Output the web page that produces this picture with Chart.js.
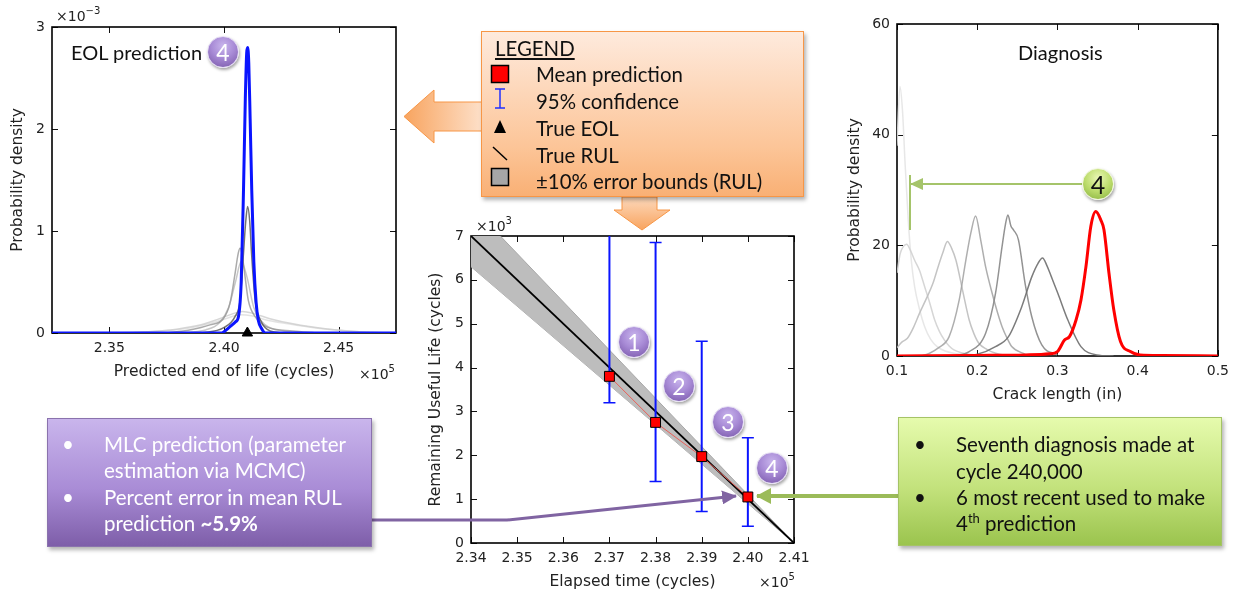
<!DOCTYPE html>
<html><head><meta charset="utf-8">
<script src="https://cdn.jsdelivr.net/npm/chart.js@4.4.1/dist/chart.umd.min.js"></script>
<style>
html,body{margin:0;padding:0;background:#fff;}
body{width:1236px;height:591px;position:relative;overflow:hidden;font-family:Lato,"Open Sans",sans-serif;}
canvas{position:absolute;}
.mpl{position:absolute;font-family:"DejaVu Sans";font-size:14px;color:#222;white-space:nowrap;line-height:16px;}
.mpl sup{font-size:10px;vertical-align:7px;line-height:0;}
.note{position:absolute;font-family:Lato,sans-serif;font-size:20px;color:#111;white-space:nowrap;line-height:24px;}
.badge{position:absolute;width:32px;height:32px;margin:-16px 0 0 -16px;border-radius:50%;box-sizing:border-box;
  display:flex;align-items:center;justify-content:center;font-family:Lato,sans-serif;font-size:23px;color:#fff;
  background:radial-gradient(circle at 50% 30%,#c8b4ec 0%,#a88bd6 45%,#7654a6 100%);border:1.5px solid #e4dcf3;
  box-shadow:1px 2px 3px rgba(0,0,0,.35);}
.badge.g{color:#111;font-size:25px;background:radial-gradient(circle at 50% 30%,#eaf7b5 0%,#bcdc6c 50%,#86b03c 100%);border-color:#f0f6dc;}
.box{position:absolute;box-sizing:border-box;box-shadow:2px 3px 4px rgba(0,0,0,.3);}
.box .ln{position:absolute;white-space:nowrap;line-height:26px;height:26px;}
#legend{left:481px;top:31px;width:323px;height:166px;border:1.5px solid #f79646;
  background:linear-gradient(#feeadd,#fcc598 70%,#f9b075);font-size:20.4px;color:#111;}
#purple{left:47px;top:418px;width:325px;height:129px;border:1px solid #8a72ad;
  background:linear-gradient(#c9b5ec,#a98cd6 55%,#7e5ea9);color:#fff;font-size:20.5px;}
#green{left:898px;top:417px;width:324px;height:129px;border:1px solid #a5c366;
  background:linear-gradient(#e6fbad,#c3e27c 55%,#9bc44e);color:#111;font-size:20.5px;}
svg{position:absolute;left:0;top:0;}
</style></head><body>

<canvas id="cA" width="420" height="400" style="left:0;top:0;width:420px;height:400px"></canvas>
<canvas id="cB" width="420" height="381" style="left:400px;top:210px;width:420px;height:381px"></canvas>
<canvas id="cC" width="406" height="410" style="left:830px;top:0;width:406px;height:410px"></canvas>

<svg width="1236" height="591" viewBox="0 0 1236 591">
  <defs>
    <linearGradient id="gOL" x1="0" x2="1" y1="0" y2="0"><stop offset="0" stop-color="#f8a45f"/><stop offset="1" stop-color="#fde0c9"/></linearGradient>
    <linearGradient id="gOD" x1="0" x2="0" y1="0" y2="1"><stop offset="0" stop-color="#fdd9bc"/><stop offset="1" stop-color="#f8a45f"/></linearGradient>
    <marker id="mP" markerUnits="userSpaceOnUse" markerWidth="16" markerHeight="14" refX="14" refY="7" orient="auto"><path d="M0,0 L15,7 L0,14 z" fill="#8064a2"/></marker>
    <marker id="mG" markerUnits="userSpaceOnUse" markerWidth="16" markerHeight="16" refX="14" refY="8" orient="auto"><path d="M0,0 L15,8 L0,16 z" fill="#9bbb59"/></marker>
    <marker id="mG2" markerUnits="userSpaceOnUse" markerWidth="14" markerHeight="12" refX="12" refY="6" orient="auto"><path d="M0,0 L13,6 L0,12 z" fill="#a5c46a"/></marker>
  </defs>
  <polygon points="482,102 434,102 434,90 404,116.5 434,143 434,131 482,131" fill="url(#gOL)" stroke="#f79646" stroke-width="1"/>
  <polygon points="622,197 622,210 614,210 642,230 670,210 657,210 657,197" fill="url(#gOD)" stroke="#f79646" stroke-width="1"/>
  <polyline points="372,520 507,520 736,496" fill="none" stroke="#8064a2" stroke-width="3" marker-end="url(#mP)"/>
  <line x1="898" y1="496" x2="757" y2="496" stroke="#9bbb59" stroke-width="4" marker-end="url(#mG)"/>
  <line x1="1082" y1="184" x2="911" y2="184" stroke="#a5c46a" stroke-width="2" marker-end="url(#mG2)"/>
  <line x1="910" y1="175" x2="910" y2="230" stroke="#a5c46a" stroke-width="2"/>
</svg>

<div class="mpl" style="left:56px;top:8px">×10<sup>−3</sup></div>
<div class="mpl" style="left:359px;top:366px">×10<sup>5</sup></div>
<div class="mpl" style="left:476px;top:218px">×10<sup>3</sup></div>
<div class="mpl" style="left:759px;top:574px">×10<sup>5</sup></div>

<div class="note" style="left:71px;top:40px">EOL prediction</div>
<div class="note" style="left:1018px;top:40px">Diagnosis</div>

<div class="badge" style="left:223px;top:52px">4</div>
<div class="badge" style="left:634px;top:342px">1</div>
<div class="badge" style="left:679px;top:386px">2</div>
<div class="badge" style="left:728px;top:422px">3</div>
<div class="badge" style="left:772px;top:468px">4</div>
<div class="badge g" style="left:1098px;top:184px">4</div>

<div id="legend" class="box">
  <div class="ln" style="left:13px;top:3px;text-decoration:underline;">LEGEND</div>
  <svg width="40" height="166" style="left:0;top:0">
    <rect x="9.5" y="33.5" width="17" height="17" fill="#f00" stroke="#000" stroke-width="1.5"/>
    <path d="M18,57 V76 M13,57 H23 M13,76 H23" stroke="#2030ff" stroke-width="1.5" fill="none"/>
    <polygon points="18,88 24,101 12,101" fill="#000"/>
    <line x1="11" y1="115" x2="25" y2="128" stroke="#000" stroke-width="1.5"/>
    <rect x="9.5" y="136.5" width="17" height="17" fill="#a6a6a6" stroke="#000" stroke-width="1.5"/>
  </svg>
  <div class="ln" style="left:54px;top:29px">Mean prediction</div>
  <div class="ln" style="left:54px;top:56px">95% confidence</div>
  <div class="ln" style="left:54px;top:83px">True EOL</div>
  <div class="ln" style="left:54px;top:110px">True RUL</div>
  <div class="ln" style="left:54px;top:136px">±10% error bounds (RUL)</div>
</div>

<div id="purple" class="box">
  <div class="ln" style="left:14px;top:12px">•</div>
  <div class="ln" style="left:56px;top:12px">MLC prediction (parameter</div>
  <div class="ln" style="left:56px;top:38px">estimation via MCMC)</div>
  <div class="ln" style="left:14px;top:65px">•</div>
  <div class="ln" style="left:56px;top:65px">Percent error in mean RUL</div>
  <div class="ln" style="left:56px;top:91px">prediction <b>~5.9%</b></div>
</div>

<div id="green" class="box">
  <div class="ln" style="left:15px;top:13px">•</div>
  <div class="ln" style="left:57px;top:13px">Seventh diagnosis made at</div>
  <div class="ln" style="left:57px;top:40px">cycle 240,000</div>
  <div class="ln" style="left:15px;top:66px">•</div>
  <div class="ln" style="left:57px;top:66px">6 most recent used to make</div>
  <div class="ln" style="left:57px;top:92px">4<sup style="font-size:13px;line-height:0">th</sup> prediction</div>
</div>

<script>
// ---------- EOL prediction (x in 1e5 cycles, density in 1e-3) ----------
const eolTicksX = [2.35, 2.40, 2.45];
const eolTicksY = [0, 1, 2, 3];
const trueEOL = [2.4102];
const eolBlueX = [2.325, 2.399, 2.401, 2.403, 2.405, 2.4063, 2.4075, 2.4085, 2.4093, 2.4099, 2.4103, 2.4108, 2.4114, 2.4121, 2.4130, 2.4140, 2.4150, 2.4165, 2.418, 2.475];
const eolBlueY = [0, 0, 0.03, 0.07, 0.11, 0.16, 0.5, 1.4, 2.3, 2.75, 2.8, 2.65, 2.1, 1.4, 0.7, 0.3, 0.12, 0.04, 0, 0];
const eolDarkX = [2.390, 2.3997, 2.4048, 2.407, 2.4084, 2.4095, 2.4103, 2.4112, 2.4121, 2.4136, 2.4165, 2.4201, 2.426];
const eolDarkY = [0, 0.05, 0.16, 0.32, 0.75, 1.1, 1.24, 1.1, 0.75, 0.32, 0.1, 0.02, 0];
const eolMidX = [2.375, 2.385, 2.3939, 2.3997, 2.4026, 2.4048, 2.4062, 2.407, 2.4078, 2.4092, 2.4106, 2.4136, 2.4186, 2.430, 2.440];
const eolMidY = [0, 0.03, 0.08, 0.14, 0.29, 0.58, 0.78, 0.83, 0.78, 0.55, 0.32, 0.16, 0.06, 0.02, 0];
const eolLightX = [2.380, 2.392, 2.398, 2.402, 2.405, 2.4075, 2.410, 2.413, 2.418, 2.426, 2.435];
const eolLightY = [0, 0.03, 0.1, 0.25, 0.5, 0.7, 0.55, 0.25, 0.08, 0.02, 0];
const eolBroad1X = [2.350, 2.365, 2.380, 2.390, 2.398, 2.404, 2.408, 2.413, 2.420, 2.430, 2.445, 2.460, 2.475];
const eolBroad1Y = [0, 0.01, 0.04, 0.08, 0.14, 0.19, 0.21, 0.19, 0.14, 0.09, 0.04, 0.01, 0];
const eolBroad2X = [2.355, 2.372, 2.385, 2.395, 2.402, 2.407, 2.412, 2.418, 2.428, 2.440, 2.455, 2.470];
const eolBroad2Y = [0, 0.02, 0.05, 0.1, 0.15, 0.18, 0.17, 0.13, 0.09, 0.05, 0.02, 0];

// ---------- RUL prediction (x in 1e5 cycles, RUL in 1e3 cycles) ----------
const rulTicksX = [2.34, 2.35, 2.36, 2.37, 2.38, 2.39, 2.40, 2.41];
const rulTicksY = [0, 1, 2, 3, 4, 5, 6, 7];
const predTime = [2.37, 2.38, 2.39, 2.40];
const predMean = [3.80, 2.75, 1.97, 1.05];
const predLow = [3.20, 1.40, 0.72, 0.38];
const predHigh = [7.60, 6.85, 4.60, 2.40];
const trueTime = [2.34, 2.41];
const trueRUL = [7.0, 0.0];
const boundUpper = [7.7, 0.0];
const boundLower = [6.3, 0.0];

// ---------- Diagnosis (crack length in inches) ----------
const diagTicksX = [0.1, 0.2, 0.3, 0.4, 0.5];
const diagTicksY = [0, 20, 40, 60];
const d1X = [0.100, 0.1037, 0.107, 0.110, 0.114, 0.118, 0.122, 0.128, 0.1345, 0.142, 0.150, 0.160, 0.171, 0.190, 0.220];
const d1Y = [38, 48.7, 44, 35, 24.6, 17, 12.5, 8.5, 5.3, 3, 1.7, 0.9, 0.5, 0.2, 0];
const d2X = [0.100, 0.104, 0.108, 0.112, 0.117, 0.122, 0.128, 0.1345, 0.141, 0.147, 0.153, 0.159, 0.165, 0.171, 0.180, 0.190, 0.210];
const d2Y = [15, 18.5, 19.8, 20.2, 19, 17.3, 15.5, 12.5, 9.5, 6.5, 4.4, 2.9, 1.8, 1.1, 0.6, 0.3, 0];
const d3X = [0.100, 0.106, 0.113, 0.120, 0.128, 0.137, 0.1447, 0.151, 0.157, 0.1628, 0.168, 0.1735, 0.1817, 0.190, 0.196, 0.202, 0.212, 0.223, 0.240];
const d3Y = [1.5, 2.5, 3.2, 5, 7.7, 10.5, 13.1, 16, 18.6, 20.7, 19.5, 17.3, 11.9, 6.5, 4, 2.3, 1.2, 0.5, 0];
const d4X = [0.130, 0.1406, 0.152, 0.165, 0.1775, 0.1858, 0.192, 0.198, 0.2043, 0.2105, 0.2187, 0.225, 0.231, 0.237, 0.243, 0.260];
const d4Y = [0, 0.5, 1.5, 3.5, 10.1, 17.3, 22.2, 25.3, 21, 16.1, 11.3, 8, 5.3, 3.3, 1.7, 0.3];
const d5X = [0.170, 0.190, 0.2105, 0.2228, 0.231, 0.2352, 0.2383, 0.2420, 0.2452, 0.2514, 0.2597, 0.268, 0.2805, 0.300];
const d5Y = [0, 0.8, 4.1, 11.3, 19.8, 23.8, 25.5, 23.5, 22.8, 21, 13.1, 7.1, 2, 0.2];
const d6X = [0.180, 0.200, 0.2228, 0.239, 0.2555, 0.268, 0.276, 0.2814, 0.287, 0.2925, 0.3006, 0.313, 0.3293, 0.349, 0.370];
const d6Y = [0, 0.3, 1.7, 3.5, 8.9, 14.3, 16.8, 17.7, 16.3, 14.3, 11.3, 6.5, 1.7, 0.2, 0];
const d7X = [0.100, 0.200, 0.260, 0.290, 0.300, 0.3088, 0.315, 0.3232, 0.3293, 0.3355, 0.3416, 0.3478, 0.354, 0.358, 0.3643, 0.3703, 0.3786, 0.391, 0.403, 0.430, 0.500];
const d7Y = [0, 0.1, 0.2, 0.4, 0.8, 2.9, 3.5, 6.5, 10.1, 16.1, 23.4, 26.1, 24.6, 22.8, 14.9, 8.3, 2.6, 0.8, 0.2, 0.1, 0];

// ---------- helpers ----------
const zip = (xs, ys) => xs.map((x, i) => ({x, y: ys[i]}));
Chart.defaults.color = '#222';
Chart.defaults.font.family = 'DejaVu Sans';

const frame = {
  id: 'frame',
  beforeDatasetsDraw(chart) {
    const {ctx, chartArea: a, scales: {x, y}} = chart;
    ctx.save();
    ctx.strokeStyle = '#111';
    ctx.lineWidth = 1;
    const L = 6;
    ctx.beginPath();
    x.ticks.forEach(t => {
      const p = Math.round(x.getPixelForValue(t.value)) + 0.5;
      ctx.moveTo(p, a.bottom); ctx.lineTo(p, a.bottom - L);
      ctx.moveTo(p, a.top); ctx.lineTo(p, a.top + L);
    });
    y.ticks.forEach(t => {
      const p = Math.round(y.getPixelForValue(t.value)) + 0.5;
      ctx.moveTo(a.left, p); ctx.lineTo(a.left + L, p);
      ctx.moveTo(a.right, p); ctx.lineTo(a.right - L, p);
    });
    ctx.stroke();
    ctx.lineWidth = 1.6;
    ctx.strokeStyle = '#000';
    ctx.strokeRect(a.left, a.top, a.right - a.left, a.bottom - a.top);
    ctx.restore();
  }
};

const errorBars = {
  id: 'errorBars',
  afterDatasetDraw(chart, args) {
    if (args.index !== 1) return;
    const {ctx, chartArea: a, scales: {x, y}} = chart;
    ctx.save();
    ctx.beginPath();
    ctx.rect(a.left, a.top, a.right - a.left, a.bottom - a.top);
    ctx.clip();
    ctx.strokeStyle = '#0a14ff';
    predTime.forEach((t, i) => {
      const px = x.getPixelForValue(t);
      const lo = y.getPixelForValue(predLow[i]);
      const hi = y.getPixelForValue(predHigh[i]);
      ctx.lineWidth = 2;
      ctx.beginPath(); ctx.moveTo(px, lo); ctx.lineTo(px, hi); ctx.stroke();
      ctx.lineWidth = 1.5;
      ctx.beginPath();
      ctx.moveTo(px - 6, lo); ctx.lineTo(px + 6, lo);
      ctx.moveTo(px - 6, hi); ctx.lineTo(px + 6, hi);
      ctx.stroke();
    });
    ctx.restore();
  }
};

function axis(min, max, ticks, fmt, title, size, tpad, horizontal) {
  return {
    type: 'linear', min, max,
    grid: {display: false, drawTicks: false},
    border: {display: false},
    ticks: {color: '#222', font: {family: 'DejaVu Sans', size: 14}, padding: 7, maxRotation: 0, autoSkip: false,
            callback: v => fmt(v)},
    title: {display: true, text: title, color: '#222', font: {family: 'DejaVu Sans', size: 15.5}, padding: tpad},
    afterBuildTicks: s => { s.ticks = ticks.map(v => ({value: v})); },
    afterFit: s => { if (horizontal) s.height = size; else s.width = size; }
  };
}
const f2 = v => v.toFixed(2), f1 = v => v.toFixed(1), f0 = v => String(v);
const line = (data, color, w) => ({data, borderColor: color, borderWidth: w, pointRadius: 0, fill: false,
  cubicInterpolationMode: 'monotone', borderJoinStyle: 'round'});

const common = {responsive: false, maintainAspectRatio: false, animation: false,
  plugins: {legend: {display: false}, tooltip: {enabled: false}}};

// Chart A: EOL prediction
new Chart(document.getElementById('cA'), {
  type: 'line',
  data: {datasets: [
    {data: zip(trueEOL, [0]), showLine: false, pointStyle: 'triangle', pointRadius: 6, backgroundColor: '#000', borderColor: '#000', borderWidth: 1, clip: false},
    line(zip(eolBlueX, eolBlueY), '#0a14ff', 3),
    line(zip(eolDarkX, eolDarkY), 'rgba(90,90,90,0.85)', 1.5),
    line(zip(eolMidX, eolMidY), 'rgba(150,150,150,0.8)', 1.5),
    line(zip(eolLightX, eolLightY), 'rgba(185,185,185,0.8)', 1.5),
    line(zip(eolBroad1X, eolBroad1Y), 'rgba(205,205,205,0.8)', 1.5),
    line(zip(eolBroad2X, eolBroad2Y), 'rgba(220,220,220,0.8)', 1.5)
  ]},
  options: Object.assign({}, common, {
    layout: {padding: {left: 0, top: 27, right: 24, bottom: 0}},
    scales: {
      x: axis(2.325, 2.475, eolTicksX, f2, 'Predicted end of life (cycles)', 67, {top: 0, bottom: 18.7}, true),
      y: axis(0, 3, eolTicksY, f0, 'Probability density', 52, {top: 8.7, bottom: 0}, false)
    }
  }),
  plugins: [frame]
});

// Chart B: RUL prediction
new Chart(document.getElementById('cB'), {
  type: 'line',
  data: {datasets: [
    {data: zip(predTime, predMean), borderColor: '#e8605a', borderWidth: 1, pointStyle: 'rect', pointRadius: 7,
     pointBackgroundColor: '#ff0000', pointBorderColor: '#000', pointBorderWidth: 1, fill: false},
    {data: zip(trueTime, trueRUL), borderColor: '#000', borderWidth: 1.8, pointRadius: 0, fill: false},
    {data: zip(trueTime, boundUpper), borderColor: '#a8a8a8', borderWidth: 1, pointRadius: 0, fill: '+1', backgroundColor: '#bdbdbd'},
    {data: zip(trueTime, boundLower), borderColor: '#a8a8a8', borderWidth: 1, pointRadius: 0, fill: false}
  ]},
  options: Object.assign({}, common, {
    layout: {padding: {left: 0, top: 26, right: 26, bottom: 0}},
    scales: {
      x: axis(2.34, 2.41, rulTicksX, f2, 'Elapsed time (cycles)', 48, {top: 0, bottom: 0}, true),
      y: axis(0, 7, rulTicksY, f0, 'Remaining Useful Life (cycles)', 71, {top: 26.7, bottom: 0}, false)
    }
  }),
  plugins: [frame, errorBars]
});

// Chart C: Diagnosis
new Chart(document.getElementById('cC'), {
  type: 'line',
  data: {datasets: [
    line(zip(d7X, d7Y), '#ff0000', 3),
    line(zip(d6X, d6Y), 'rgba(110,110,110,0.9)', 1.5),
    line(zip(d5X, d5Y), 'rgba(135,135,135,0.9)', 1.5),
    line(zip(d4X, d4Y), 'rgba(165,165,165,0.9)', 1.5),
    line(zip(d3X, d3Y), 'rgba(190,190,190,0.9)', 1.5),
    line(zip(d2X, d2Y), 'rgba(210,210,210,0.9)', 1.5),
    line(zip(d1X, d1Y), 'rgba(228,228,228,0.9)', 1.5)
  ]},
  options: Object.assign({}, common, {
    layout: {padding: {left: 0, top: 24, right: 14, bottom: 0}},
    scales: {
      x: axis(0.1, 0.5, diagTicksX, f1, 'Crack length (in)', 54, {top: 0, bottom: 5.7}, true),
      y: axis(0, 60, diagTicksY, f0, 'Probability density', 67, {top: 15.7, bottom: 0}, false)
    }
  }),
  plugins: [frame]
});
</script>
</body></html>
